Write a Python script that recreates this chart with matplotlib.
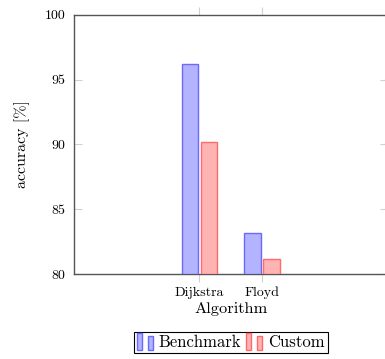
import matplotlib
matplotlib.use("Agg")
import matplotlib.pyplot as plt
from matplotlib.patches import Rectangle
from matplotlib.container import BarContainer
from matplotlib.legend_handler import HandlerBase
import numpy as np

# data
algorithms = ["Dijkstra", "Floyd"]
benchmark = [96.2, 83.2]
custom = [90.2, 81.2]

plt.rcParams['font.family'] = ['cmr10', 'DejaVu Serif']
plt.rcParams['axes.unicode_minus'] = False

BLUE_FILL, BLUE_EDGE = '#b3b3ff', '#6a6aff'
RED_FILL, RED_EDGE = '#ffb3b3', '#ff6a6a'


class TwoBarHandler(HandlerBase):
    # pgfplots-style ybar legend image: two small bars
    def create_artists(self, legend, orig_handle, xdescent, ydescent,
                       width, height, fontsize, trans):
        p = orig_handle.patches[0]
        fc = p.get_facecolor()
        ec = p.get_edgecolor()
        w = width * 0.3
        out = []
        for i, frac in enumerate([1.3, 1.05]):
            x = -xdescent + i * width * 0.62
            h = height * frac
            r = Rectangle((x, -ydescent - 1.5), w, h, facecolor=fc, edgecolor=ec,
                          linewidth=1.0, transform=trans)
            out.append(r)
        return out


fig = plt.figure(figsize=(3.85, 3.59), dpi=100)
ax = fig.add_axes([74 / 385, 84.7 / 359, 313.5 / 385, 259.6 / 359])

x = np.arange(len(algorithms))
bw = 0.262
off = 0.15
b1 = ax.bar(x - off, [v - 80 for v in benchmark], bw, bottom=80,
            facecolor=BLUE_FILL, edgecolor=BLUE_EDGE, linewidth=1.0,
            label="Benchmark", zorder=3)
b2 = ax.bar(x + off, [v - 80 for v in custom], bw, bottom=80,
            facecolor=RED_FILL, edgecolor=RED_EDGE, linewidth=1.0,
            label="Custom", zorder=3)

ax.set_xlim(-2, 3)
ax.set_ylim(80, 100)
ax.set_xticks(x)
ax.set_xticklabels(algorithms, fontsize=10)
ax.set_yticks([80, 85, 90, 95, 100])
ax.tick_params(axis='y', direction='in', length=6, color='#d0d0d0',
               labelsize=10, pad=6, right=True)
ax.tick_params(axis='x', direction='out', length=6, color='#d0d0d0',
               labelsize=10, pad=3, top=True)

for s in ax.spines.values():
    s.set_color('#555555')
    s.set_linewidth(1.0)

ax.set_xlabel("Algorithm", fontsize=11.8, labelpad=2)
ax.set_ylabel("accuracy [%]", fontsize=11.5, labelpad=11)

leg = fig.legend(handles=[b1, b2], loc='upper center',
                 bbox_to_anchor=(231 / 385, 27.5 / 359), ncol=2,
                 fontsize=12, frameon=True, fancybox=False,
                 edgecolor='black', framealpha=1, handlelength=1.0,
                 handleheight=0.8, handletextpad=0.3, columnspacing=0.3,
                 borderpad=0.2, borderaxespad=0,
                 handler_map={BarContainer: TwoBarHandler()})
leg.get_frame().set_linewidth(0.8)

fig.savefig("out.png", dpi=100)
